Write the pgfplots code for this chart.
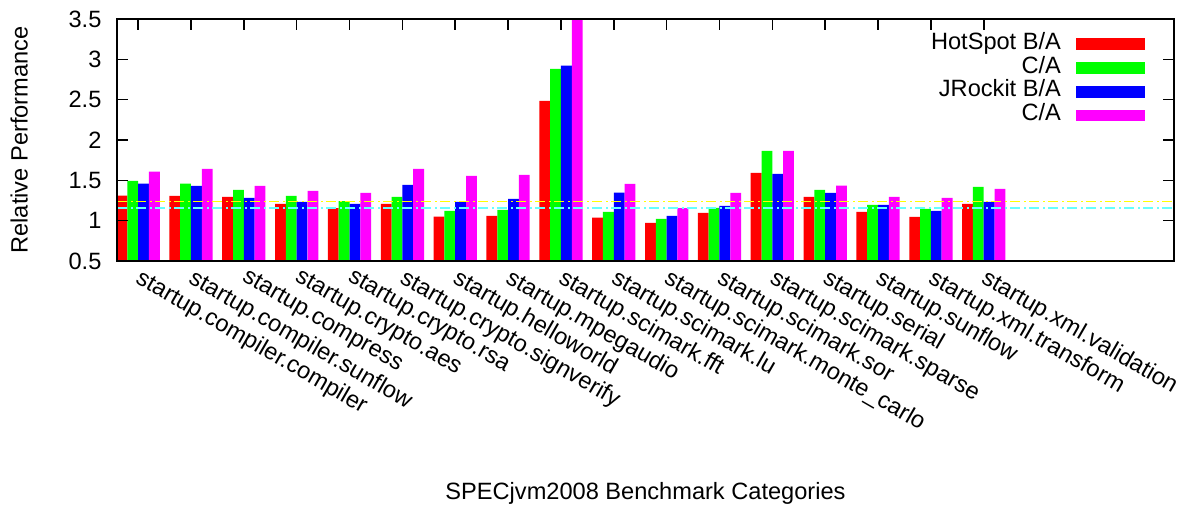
\documentclass[border=0pt]{standalone}
\usepackage{fontspec}
\setmainfont{Liberation Sans}
\usepackage{pgfplots}
\pgfplotsset{compat=1.18}
\definecolor{cyanline}{RGB}{102,255,255}
\definecolor{yellowline}{RGB}{255,255,0}
\definecolor{barred}{RGB}{255,0,0}
\definecolor{bargreen}{RGB}{0,255,0}
\definecolor{barblue}{RGB}{0,0,255}
\definecolor{barmagenta}{RGB}{255,0,255}
\begin{document}
\fontsize{11.8bp}{14bp}\selectfont
\begin{tikzpicture}
\begin{axis}[
  at={(58.5bp,122.5bp)}, anchor=south west,
  scale only axis, width=528.5bp, height=121bp,
  xmin=-0.4, xmax=19.6, ymin=0.5, ymax=3.5,
  axis on top,
  axis line style={line width=0.8bp},
  every tick/.style={line width=0.8bp, black},
  tick align=inside,
  major tick length=5.5bp,
  xtick={0,...,16},
  xtick pos=right,
  xticklabel pos=left,
  ytick={0.5,1,1.5,2,2.5,3,3.5},
  ytick pos=both,
  /pgf/number format/assume math mode=true,
  /pgf/number format/fixed,
  xticklabels={startup.compiler.compiler,startup.compiler.sunflow,startup.compress,startup.crypto.aes,startup.crypto.rsa,startup.crypto.signverify,startup.helloworld,startup.mpegaudio,startup.scimark.fft,startup.scimark.lu,startup.scimark.monte\_carlo,startup.scimark.sor,startup.scimark.sparse,startup.serial,startup.sunflow,startup.xml.transform,startup.xml.validation},
  xticklabel style={xshift=2.5bp, yshift=-3bp, rotate=-30, anchor=north west, inner sep=0pt},
  yticklabel style={anchor=east, inner sep=0pt, xshift=-7.6bp},
  xlabel={SPECjvm2008 Benchmark Categories},
  ylabel={Relative Performance},
  every axis x label/.style={at={(axis description cs:0.5,-0.9876)}, anchor=base, inner sep=0pt},
  every axis y label/.style={at={(axis description cs:-0.1012,0.5)}, rotate=90, anchor=north, inner sep=0pt},
  legend style={draw=none, fill=none, at={(1,1)}, anchor=north east, xshift=-14.5bp, yshift=-6.6bp,
    inner sep=0pt, outer sep=0pt, row sep=0pt, column sep=0pt,
    nodes={inner sep=0pt, text height=8.5bp, text depth=3.4bp}},
  legend plot pos=right,
  legend cell align=right,
  legend image code/.code={\path (0bp,0bp); \fill[#1] (7.35bp,-2.9bp) rectangle (42.05bp,2.9bp);},
]
\addplot[ybar, bar width=0.2045, bar shift=-0.30675, fill=barred, draw=none] coordinates {
(0,1.311) (1,1.307) (2,1.294) (3,1.208) (4,1.154) (5,1.208) (6,1.050) (7,1.059) (8,2.486) (9,1.038) (10,0.972) (11,1.096) (12,1.592) (13,1.294) (14,1.108) (15,1.046) (16,1.208)};
\addlegendentry{HotSpot B/A}
\addplot[ybar, bar width=0.2045, bar shift=-0.10225, fill=bargreen, draw=none] coordinates {
(0,1.493) (1,1.460) (2,1.381) (3,1.307) (4,1.241) (5,1.294) (6,1.121) (7,1.133) (8,2.883) (9,1.108) (10,1.021) (11,1.158) (12,1.866) (13,1.381) (14,1.195) (15,1.146) (16,1.419)};
\addlegendentry{C/A}
\addplot[ybar, bar width=0.2045, bar shift=0.10225, fill=barblue, draw=none] coordinates {
(0,1.460) (1,1.431) (2,1.282) (3,1.232) (4,1.208) (5,1.443) (6,1.232) (7,1.270) (8,2.921) (9,1.348) (10,1.059) (11,1.183) (12,1.580) (13,1.344) (14,1.195) (15,1.121) (16,1.232)};
\addlegendentry{JRockit B/A}
\addplot[ybar, bar width=0.2045, bar shift=0.30675, fill=barmagenta, draw=none] coordinates {
(0,1.609) (1,1.642) (2,1.431) (3,1.369) (4,1.344) (5,1.642) (6,1.555) (7,1.568) (8,3.5) (9,1.456) (10,1.154) (11,1.344) (12,1.866) (13,1.435) (14,1.294) (15,1.282) (16,1.394)};
\addlegendentry{C/A}
\addplot[forget plot, sharp plot, no marks, yellowline, line width=0.5bp, dash pattern=on 5bp off 2bp on 0.75bp off 1.75bp] coordinates {(-0.4,1.241) (19.6,1.241)};
\addplot[forget plot, sharp plot, no marks, cyanline, line width=1bp, dash pattern=on 5bp off 2bp on 0.75bp off 1.75bp] coordinates {(-0.4,1.162) (19.6,1.162)};
\end{axis}
\pgfresetboundingbox
\useasboundingbox (0,0) rectangle (593bp,253bp);
\end{tikzpicture}
\end{document}
